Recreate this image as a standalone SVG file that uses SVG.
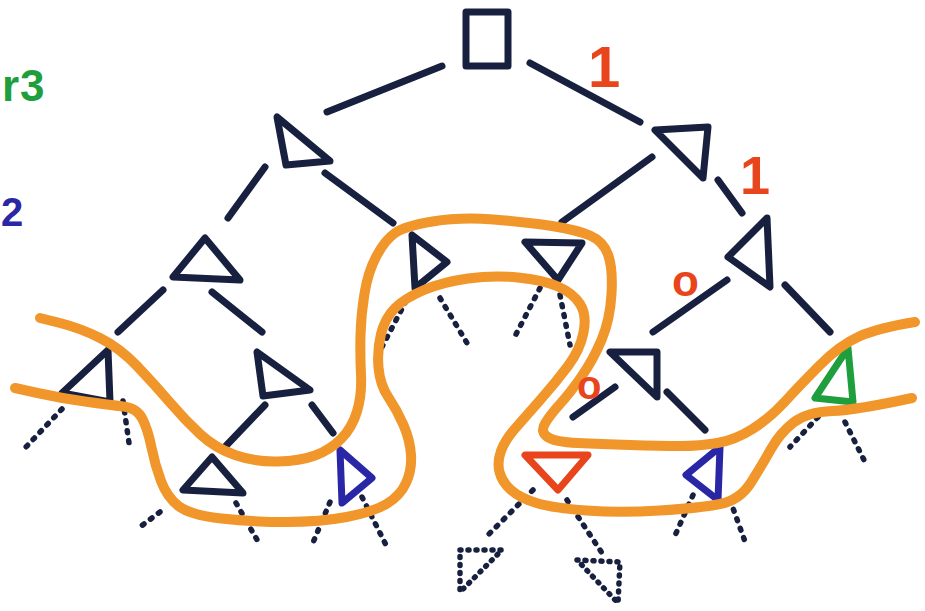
<svg xmlns="http://www.w3.org/2000/svg" width="925" height="611" viewBox="0 0 925 611">
<style>
.edge{stroke:#182040;stroke-width:7;stroke-linecap:round;fill:none}
.tri{stroke:#182040;stroke-width:7;stroke-linejoin:round;fill:none}
.blue{stroke:#2a27a6}
.red{stroke:#e8451d}
.green{stroke:#1e9e3c}
.dot{stroke:#182040;stroke-width:5.5;stroke-linecap:round;stroke-dasharray:2 8;fill:none}
.dtri{stroke:#182040;stroke-width:5.5;stroke-linecap:round;stroke-linejoin:round;stroke-dasharray:1 7;fill:none}
.front{stroke:#f0962b;stroke-width:10;stroke-linecap:round;stroke-linejoin:round;fill:none}
.lbl{font-family:"Liberation Sans",Arial,sans-serif;font-weight:bold}
</style>
<rect width="925" height="611" fill="#ffffff"/>

<g id="connectors">
<line class="edge" x1="327" y1="112" x2="442" y2="66"/>
<line class="edge" x1="530" y1="63" x2="640" y2="122"/>
<line class="edge" x1="265" y1="167" x2="228" y2="218"/>
<line class="edge" x1="325" y1="173" x2="393" y2="223"/>
<line class="edge" x1="163" y1="290" x2="118" y2="332"/>
<line class="edge" x1="212" y1="292" x2="262" y2="332"/>
<line class="edge" x1="265" y1="405" x2="222" y2="450"/>
<line class="edge" x1="312" y1="405" x2="333" y2="433"/>
<line class="edge" x1="652" y1="157" x2="562" y2="222"/>
<line class="edge" x1="718" y1="180" x2="742" y2="213"/>
<line class="edge" x1="727" y1="280" x2="653" y2="332"/>
<line class="edge" x1="785" y1="285" x2="830" y2="332"/>
<line class="edge" x1="615" y1="387" x2="573" y2="417"/>
<line class="edge" x1="667" y1="392" x2="705" y2="430"/>
<line class="dot" x1="62" y1="409" x2="25" y2="448"/>
<line class="dot" x1="123" y1="401" x2="130" y2="450"/>
<line class="dot" x1="160" y1="512" x2="140" y2="527"/>
<line class="dot" x1="236" y1="503" x2="260" y2="545"/>
<line class="dot" x1="330" y1="502" x2="312" y2="545"/>
<line class="dot" x1="362" y1="497" x2="387" y2="547"/>
<line class="dot" x1="406" y1="301" x2="382" y2="347"/>
<line class="dot" x1="440" y1="298" x2="470" y2="348"/>
<line class="dot" x1="540" y1="288" x2="513" y2="340"/>
<line class="dot" x1="560" y1="295" x2="570" y2="345"/>
<line class="dot" x1="533" y1="490" x2="488" y2="535"/>
<line class="dot" x1="567" y1="500" x2="602" y2="553"/>
<line class="dot" x1="693" y1="495" x2="673" y2="540"/>
<line class="dot" x1="730" y1="500" x2="747" y2="547"/>
<line class="dot" x1="818" y1="417" x2="790" y2="447"/>
<line class="dot" x1="845" y1="422" x2="865" y2="462"/>
</g>

<g id="root"><rect x="466" y="12" width="42" height="54" class="tri"/></g>
<g id="n-L"><polygon class="tri" points="277,117 286,165 330,161"/></g>
<g id="n-LL"><polygon class="tri" points="205,238 173,277 240,280"/></g>
<g id="n-LLL"><polygon class="tri" points="108,350 62,393 110,402"/></g>
<g id="n-LLR"><polygon class="tri" points="257,352 263,396 310,390"/></g>
<g id="n-LLRL"><polygon class="tri" points="212,457 183,490 243,493"/></g>
<g id="n-LLRR"><polygon class="tri blue" points="340,450 342,503 372,478"/></g>
<g id="n-LR"><polygon class="tri" points="412,235 415,288 447,262"/></g>
<g id="n-R"><polygon class="tri" points="655,130 708,127 703,178"/></g>
<g id="n-RL"><polygon class="tri" points="525,242 582,243 558,280"/></g>
<g id="n-RR"><polygon class="tri" points="767,218 728,257 770,287"/></g>
<g id="n-RRL"><polygon class="tri" points="610,352 657,352 657,397"/></g>
<g id="n-RRLL"><polygon class="tri red" points="525,455 588,455 558,490"/></g>
<g id="n-RRLR"><polygon class="tri blue" points="720,447 686,475 718,500"/></g>
<g id="n-RRR"><polygon class="tri green" points="848,348 815,398 853,402"/></g>
<g id="n-ghost1"><polygon class="dtri" points="460,550 502,550 460,592"/></g>
<g id="n-ghost2"><polygon class="dtri" points="577,560 620,562 618,603"/></g>

<g id="frontiers">
<path class="front" d="M40,318 L60,323 Q80,328 100,338 Q120,348 137.5,366.5 Q155,385 170,402.5 Q185,420 200,434 Q215,448 235,455 Q255,462 277.5,461.5 Q300,461 315,455.5 Q330,450 341,439 Q352,428 357,411.5 Q362,395 361,375 Q360,355 360.5,335 Q361,315 364.5,293.5 Q368,272 376.5,256 Q385,240 395,233 Q405,226 432.5,221.5 Q460,217 493.5,219.5 Q527,222 552,226 Q577,230 590,235.5 Q603,241 608,254.5 Q613,268 611.5,294 Q610,320 601.5,340 Q593,360 581.5,376.5 Q570,393 560,404 Q550,415 545,423.5 Q540,432 547.5,437 Q555,442 577.5,443 Q600,444 630,445 Q660,446 680,446 Q700,446 717.5,443 Q735,440 752.5,429 Q770,418 785,401.5 Q800,385 820,365 Q840,345 859,336.5 Q878,328 915,322"/>
<path class="front" d="M15,388 L37.5,393 Q60,398 85,401.5 Q110,405 123.5,406.5 Q137,408 142.5,419 Q148,430 151.5,447.5 Q155,465 161,481 Q167,497 178.5,506 Q190,515 221.5,518.5 Q253,522 286.5,522 Q320,522 346.5,517 Q373,512 386.5,504 Q400,496 406,483 Q412,470 411,455 Q410,440 403.5,425 Q397,410 388.5,397.5 Q380,385 378.5,367.5 Q377,350 381,334 Q385,318 395,308 Q405,298 424,290 Q443,282 468,278.5 Q493,275 518,277.5 Q543,280 558,286.5 Q573,293 580,304 Q587,315 583.5,332.5 Q580,350 568,366 Q556,382 541.5,398.5 Q527,415 516,427.5 Q505,440 501,451 Q497,462 499.5,472 Q502,482 511,490 Q520,498 536.5,503 Q553,508 586.5,510.5 Q620,513 660,510.5 Q700,508 720,504 Q740,500 751,482.5 Q762,465 771,449 Q780,433 793.5,422.5 Q807,412 832,411 Q857,410 912,398"/>
</g>

<g id="labels">
<text class="lbl" x="2" y="101" font-size="44" fill="#1e9e3c">r<tspan x="20">3</tspan></text>
<text class="lbl" x="1" y="226" font-size="40" fill="#2a27a6">2</text>
<text class="lbl" x="588" y="87" font-size="58" fill="#e8451d">1</text>
<text class="lbl" x="740" y="194" font-size="54" fill="#e8451d">1</text>
<text class="lbl" x="672" y="296" font-size="44" fill="#e8451d">o</text>
<text class="lbl" x="577" y="399" font-size="40" fill="#e8451d">o</text>
</g>
</svg>
